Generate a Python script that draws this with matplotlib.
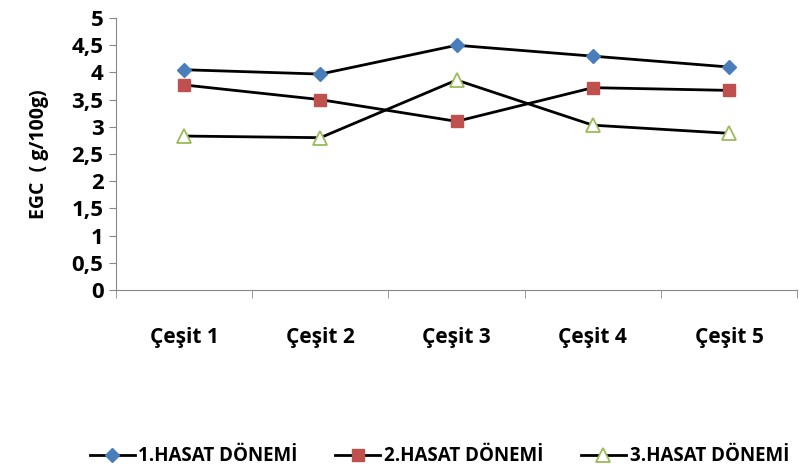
import numpy as np
import matplotlib.pyplot as plt

# Değerler
cesitler = ['Çeşit 1', 'Çeşit 2', 'Çeşit 3', 'Çeşit 4', 'Çeşit 5']
hasat1 = [4.05, 3.97, 4.50, 4.30, 4.10]
hasat2 = [3.77, 3.50, 3.10, 3.72, 3.67]
hasat3 = [2.83, 2.80, 3.86, 3.03, 2.88]

plt.rcParams['font.family'] = ['Open Sans', 'DejaVu Sans']
plt.rcParams['font.weight'] = 'bold'

fig = plt.figure(figsize=(8.06, 4.76), dpi=100)
ax = fig.add_axes([0.144, 0.391, 0.845, 0.571])

x = np.arange(len(cesitler))
ax.plot(x, hasat1, color='black', lw=2, marker='D', ms=7,
        mfc='#4a7ebb', mec='#4a7ebb', label='1.HASAT DÖNEMİ')
ax.plot(x, hasat2, color='black', lw=2, marker='s', ms=9,
        mfc='#c0504d', mec='#c0504d', label='2.HASAT DÖNEMİ')
ax.plot(x, hasat3, color='black', lw=2, marker='^', ms=10,
        mfc='white', mec='#9bbb59', mew=1.3, label='3.HASAT DÖNEMİ')

ax.set_xlim(-0.5, len(cesitler) - 0.5)
ax.set_ylim(0, 5)
ax.set_yticks(np.arange(0, 5.01, 0.5))
ax.set_yticklabels([f'{v:g}'.replace('.', ',') for v in np.arange(0, 5.01, 0.5)],
                   fontsize=16, fontweight='bold')
ax.set_xticks(x)
ax.set_xticklabels(cesitler, fontsize=15, fontweight='bold')
ax.set_xticks(np.arange(-0.5, len(cesitler)), minor=True)
ax.tick_params(axis='x', which='major', length=0, pad=27)
ax.tick_params(axis='x', which='minor', length=6, color='#888888', direction='out')
ax.tick_params(axis='y', length=5, color='#888888', direction='out', pad=4)
ax.set_ylabel('EGC  ( g/100g)', fontsize=14, fontweight='bold', labelpad=16)

for s in ['top', 'right']:
    ax.spines[s].set_visible(False)
for s in ['left', 'bottom']:
    ax.spines[s].set_color('#888888')

fig.legend(loc='lower center', bbox_to_anchor=(0.545, -0.015), ncol=3, frameon=False,
           handlelength=2.4, columnspacing=2.0, handletextpad=0.2,
           prop={'weight': 'bold', 'size': 13.5})

fig.savefig('out.png', dpi=100)
